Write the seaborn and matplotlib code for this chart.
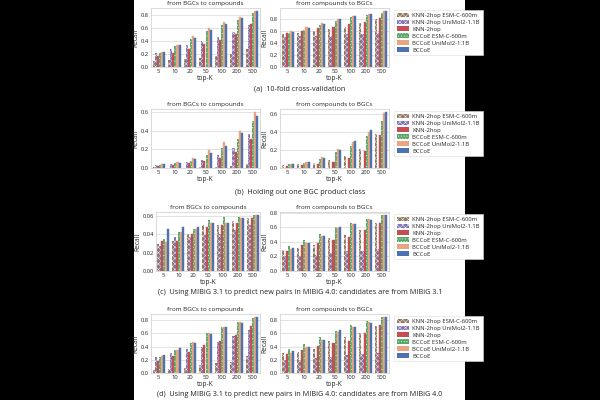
import pandas as pd
import seaborn as sns
import matplotlib.pyplot as plt
from matplotlib.patches import Patch, Rectangle

# top-K values and methods
top_k = ["5", "10", "20", "50", "100", "200", "500"]
methods = ["KNN-2hop ESM-C-600m", "KNN-2hop UniMol2-1.1B", "KNN-2hop",
           "BCCoE ESM-C-600m", "BCCoE UniMol2-1.1B", "BCCoE"]

# (a) 10-fold cross-validation
a_b2c = [
    [0.09, 0.11, 0.12, 0.14, 0.17, 0.20, 0.27],
    [0.22, 0.28, 0.34, 0.40, 0.46, 0.54, 0.65],
    [0.17, 0.22, 0.27, 0.35, 0.41, 0.51, 0.66],
    [0.22, 0.32, 0.43, 0.55, 0.64, 0.72, 0.82],
    [0.23, 0.34, 0.47, 0.59, 0.69, 0.77, 0.86],
    [0.23, 0.33, 0.44, 0.57, 0.66, 0.75, 0.85],
]
a_c2b = [
    [0.54, 0.56, 0.59, 0.63, 0.67, 0.72, 0.80],
    [0.49, 0.51, 0.52, 0.52, 0.54, 0.55, 0.56],
    [0.57, 0.60, 0.64, 0.67, 0.71, 0.75, 0.81],
    [0.57, 0.62, 0.69, 0.76, 0.82, 0.86, 0.90],
    [0.59, 0.66, 0.72, 0.80, 0.85, 0.88, 0.93],
    [0.58, 0.65, 0.71, 0.79, 0.84, 0.88, 0.92],
]

# (b) Holding out one BGC product class
b_b2c = [
    [0.01, 0.005, 0.005, 0.01, 0.015, 0.02, 0.04],
    [0.03, 0.04, 0.06, 0.09, 0.14, 0.21, 0.36],
    [0.02, 0.03, 0.05, 0.07, 0.11, 0.17, 0.31],
    [0.03, 0.05, 0.08, 0.14, 0.21, 0.31, 0.50],
    [0.04, 0.06, 0.11, 0.19, 0.28, 0.40, 0.60],
    [0.04, 0.055, 0.10, 0.16, 0.24, 0.37, 0.56],
]
b_c2b = [
    [0.03, 0.04, 0.055, 0.09, 0.14, 0.21, 0.38],
    [0.005, 0.005, 0.005, 0.005, 0.005, 0.005, 0.005],
    [0.02, 0.035, 0.05, 0.07, 0.11, 0.19, 0.37],
    [0.04, 0.06, 0.10, 0.18, 0.25, 0.36, 0.53],
    [0.04, 0.07, 0.12, 0.21, 0.29, 0.40, 0.62],
    [0.04, 0.07, 0.11, 0.20, 0.30, 0.43, 0.63],
]

# (c) MIBiG 3.1 -> 4.0, candidates from MIBiG 3.1
c_b2c = [
    [0.029, 0.033, 0.040, 0.050, 0.050, 0.054, 0.057],
    [0.027, 0.037, 0.037, 0.039, 0.040, 0.044, 0.050],
    [0.033, 0.033, 0.040, 0.048, 0.050, 0.052, 0.057],
    [0.035, 0.042, 0.046, 0.055, 0.059, 0.059, 0.061],
    [0.031, 0.042, 0.046, 0.052, 0.052, 0.057, 0.061],
    [0.046, 0.048, 0.048, 0.052, 0.052, 0.058, 0.061],
]
c_c2b = [
    [0.29, 0.32, 0.36, 0.45, 0.50, 0.56, 0.66],
    [0.20, 0.21, 0.22, 0.24, 0.27, 0.28, 0.30],
    [0.28, 0.35, 0.39, 0.42, 0.46, 0.56, 0.66],
    [0.34, 0.43, 0.51, 0.60, 0.66, 0.71, 0.77],
    [0.30, 0.39, 0.48, 0.59, 0.65, 0.71, 0.77],
    [0.32, 0.39, 0.48, 0.60, 0.65, 0.70, 0.77],
]

# (d) MIBiG 3.1 -> 4.0, candidates from MIBiG 4.0
d_b2c = [
    [0.04, 0.06, 0.08, 0.12, 0.15, 0.17, 0.26],
    [0.24, 0.31, 0.36, 0.40, 0.47, 0.56, 0.65],
    [0.18, 0.26, 0.32, 0.42, 0.48, 0.58, 0.71],
    [0.24, 0.35, 0.46, 0.61, 0.70, 0.77, 0.83],
    [0.25, 0.35, 0.47, 0.61, 0.69, 0.77, 0.85],
    [0.27, 0.38, 0.46, 0.59, 0.69, 0.76, 0.84],
]
d_c2b = [
    [0.30, 0.32, 0.37, 0.48, 0.54, 0.60, 0.71],
    [0.20, 0.20, 0.22, 0.24, 0.27, 0.28, 0.30],
    [0.29, 0.35, 0.41, 0.45, 0.49, 0.61, 0.73],
    [0.36, 0.44, 0.54, 0.64, 0.73, 0.78, 0.84],
    [0.31, 0.40, 0.50, 0.62, 0.70, 0.77, 0.85],
    [0.33, 0.40, 0.50, 0.65, 0.70, 0.76, 0.85],
]

captions = [
    "(a)  10-fold cross-validation",
    "(b)  Holding out one BGC product class",
    "(c)  Using MIBiG 3.1 to predict new pairs in MIBiG 4.0: candidates are from MIBiG 3.1",
    "(d)  Using MIBiG 3.1 to predict new pairs in MIBiG 4.0: candidates are from MIBiG 4.0",
]
rows = [(a_b2c, a_c2b), (b_b2c, b_c2b), (c_b2c, c_c2b), (d_b2c, d_c2b)]

colors = ["#937860", "#8172B3", "#C44E52", "#55A868", "#E9A57F", "#4C72B0"]
hatches = ["xxxxxx", "xxxxxx", None, "......", None, None]


def to_long(values):
    recs = []
    for m, vals in zip(methods, values):
        for k, v in zip(top_k, vals):
            recs.append({"top-K": k, "method": m, "Recall": v})
    return pd.DataFrame(recs)


def style_bars(ax):
    for cont, col, h in zip(ax.containers, colors, hatches):
        for bar in cont:
            bar.set_facecolor(col)
            if h:
                bar.set_hatch(h)
                bar.set_edgecolor("#f4f4f4")
                bar.set_linewidth(0)
            else:
                bar.set_edgecolor(col)
                bar.set_linewidth(0.3)


def draw_panel(ax, values, title):
    df = to_long(values)
    sns.barplot(data=df, x="top-K", y="Recall", hue="method", order=top_k,
                hue_order=methods, palette=colors, ax=ax, legend=False,
                width=0.8, saturation=1)
    style_bars(ax)
    ax.set_title(title, fontsize=4.6, pad=2)
    ax.set_xlabel("top-K", fontsize=4.8, labelpad=1)
    ax.set_ylabel("Recall", fontsize=4.8, labelpad=1)
    ax.tick_params(axis="both", labelsize=4.2, pad=1.5, length=0)
    for s in ax.spines.values():
        s.set_linewidth(0.5)
    ax.grid(axis="y", linewidth=0.4)


sns.set_theme(style="whitegrid")
plt.rcParams["hatch.linewidth"] = 0.35
plt.rcParams["font.family"] = ["Open Sans", "DejaVu Sans"]

W, H = 600, 400
fig = plt.figure(figsize=(6, 4), dpi=100, facecolor="black")
fig.patches.append(Rectangle((134 / W, 0), 331 / W, 1, transform=fig.transFigure,
                             facecolor="white", edgecolor="none", zorder=-5))


def px_axes(x0, x1, y0, y1):
    return fig.add_axes([x0 / W, 1 - y1 / H, (x1 - x0) / W, (y1 - y0) / H])


row_tops = [8, 109, 212, 314]
row_h = 59
cap_y = [89, 192, 293, 394]
left_x0 = [151, 151, 156, 151]

for i, (left_vals, right_vals) in enumerate(rows):
    t = row_tops[i]
    ax_l = px_axes(left_x0[i], 260, t, t + row_h)
    ax_r = px_axes(280, 389, t, t + row_h)
    draw_panel(ax_l, left_vals, "from BGCs to compounds")
    draw_panel(ax_r, right_vals, "from compounds to BGCs")
    handles = [Patch(facecolor=c, hatch=h, edgecolor="#f4f4f4" if h else c, linewidth=0)
               for c, h in zip(colors, hatches)]
    leg = ax_r.legend(handles, methods, loc="upper left", bbox_to_anchor=(1.02, 1.02),
                      fontsize=4.2, frameon=True, handlelength=2.0, handleheight=0.9,
                      labelspacing=0.25, borderpad=0.5, handletextpad=0.6,
                      edgecolor="#dddddd", facecolor="white", framealpha=1,
                      fancybox=False)
    leg.get_frame().set_linewidth(0.4)
    fig.text(0.5, 1 - cap_y[i] / H, captions[i], ha="center", va="center",
             fontsize=5.2, color="#222222")

fig.savefig("out.png", dpi=100, facecolor="black")
